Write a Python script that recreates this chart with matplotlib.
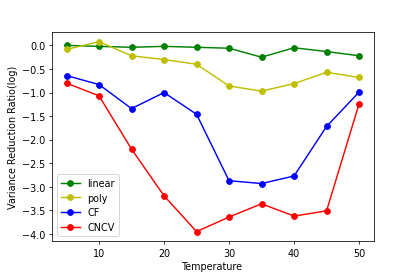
import matplotlib
matplotlib.use('Agg')
import matplotlib.pyplot as plt

# Temperatures and log variance reduction ratios per method
temperature = [5, 10, 15, 20, 25, 30, 35, 40, 45, 50]
linear = [0.0, -0.02, -0.04, -0.02, -0.04, -0.06, -0.25, -0.05, -0.13, -0.22]
poly = [-0.085, 0.08, -0.22, -0.30, -0.40, -0.86, -0.97, -0.81, -0.57, -0.68]
cf = [-0.64, -0.83, -1.34, -1.0, -1.46, -2.87, -2.93, -2.77, -1.72, -0.99]
cncv = [-0.80, -1.07, -2.20, -3.19, -3.95, -3.64, -3.36, -3.62, -3.51, -1.24]

plt.figure(figsize=(6, 4), dpi=69.2)
plt.plot(temperature, linear, 'go-', label='linear')
plt.plot(temperature, poly, 'yo-', label='poly')
plt.plot(temperature, cf, 'bo-', label='CF')
plt.plot(temperature, cncv, 'ro-', label='CNCV')
plt.xlabel('Temperature')
plt.ylabel('Variance Reduction Ratio(log)')
plt.legend(loc='lower left')
plt.subplots_adjust(left=0.125, right=0.9, top=0.881, bottom=0.126)
plt.savefig('out.png', dpi=69.2)
